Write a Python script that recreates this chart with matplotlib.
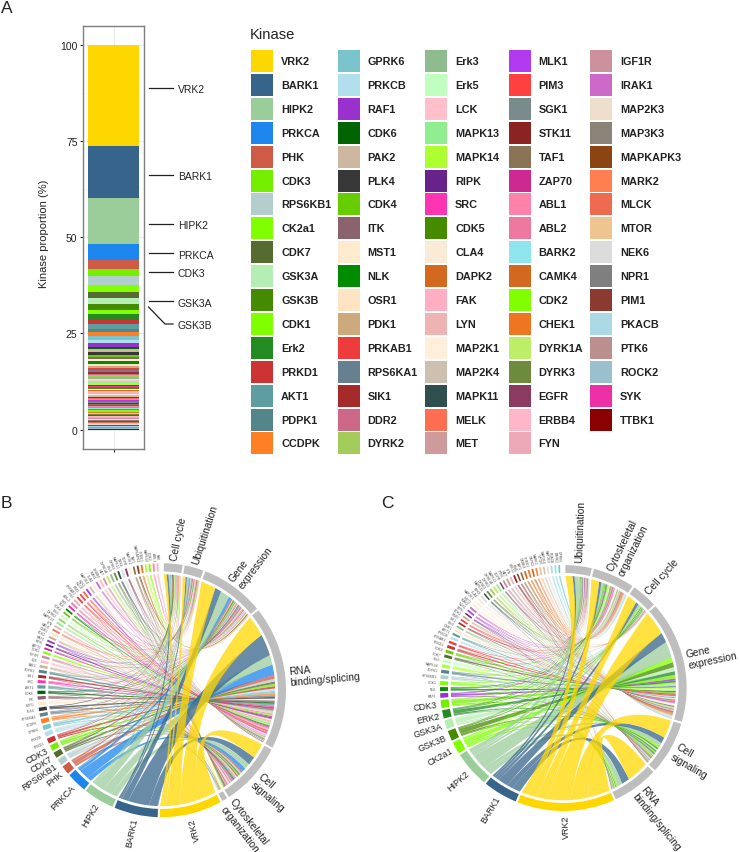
import numpy as np
import matplotlib
matplotlib.use('Agg')
import matplotlib.pyplot as plt
from matplotlib.patches import PathPatch, Rectangle, Wedge
from matplotlib.path import Path

plt.rcParams['font.family'] = ['Liberation Sans', 'DejaVu Sans']

W, H = 740, 853

# legend columns, also the stacking order of the bar
col1 = ['VRK2', 'BARK1', 'HIPK2', 'PRKCA', 'PHK', 'CDK3', 'RPS6KB1', 'CK2a1', 'CDK7', 'GSK3A', 'GSK3B', 'CDK1', 'Erk2', 'PRKD1', 'AKT1', 'PDPK1', 'CCDPK']
col2 = ['GPRK6', 'PRKCB', 'RAF1', 'CDK6', 'PAK2', 'PLK4', 'CDK4', 'ITK', 'MST1', 'NLK', 'OSR1', 'PDK1', 'PRKAB1', 'RPS6KA1', 'SIK1', 'DDR2', 'DYRK2']
col3 = ['Erk3', 'Erk5', 'LCK', 'MAPK13', 'MAPK14', 'RIPK', 'SRC', 'CDK5', 'CLA4', 'DAPK2', 'FAK', 'LYN', 'MAP2K1', 'MAP2K4', 'MAPK11', 'MELK', 'MET']
col4 = ['MLK1', 'PIM3', 'SGK1', 'STK11', 'TAF1', 'ZAP70', 'ABL1', 'ABL2', 'BARK2', 'CAMK4', 'CDK2', 'CHEK1', 'DYRK1A', 'DYRK3', 'EGFR', 'ERBB4', 'FYN']
col5 = ['IGF1R', 'IRAK1', 'MAP2K3', 'MAP3K3', 'MAPKAPK3', 'MARK2', 'MLCK', 'MTOR', 'NEK6', 'NPR1', 'PIM1', 'PKACB', 'PTK6', 'ROCK2', 'SYK', 'TTBK1']

colors1 = ['#FFD700', '#36648B', '#9BCD9B', '#1C86EE', '#CD5B45', '#76EE00', '#B4CDCD', '#7FFF00', '#556B2F', '#B4EEB4', '#458B00', '#7FFF00', '#228B22', '#CD3333', '#5F9EA0', '#53868B', '#FF7F24']
colors2 = ['#7AC5CD', '#B2DFEE', '#9932CC', '#006400', '#CDB79E', '#383838', '#66CD00', '#8B636C', '#FFEBCD', '#008B00', '#FFE4C4', '#CDAA7D', '#EE3B3B', '#668090', '#A52A2A', '#CD6889', '#A2CD5A']
colors3 = ['#8FBC8F', '#C1FFC1', '#FFC0CB', '#90EE90', '#ADFF2F', '#68228B', '#FF34B3', '#458B00', '#FAEBD7', '#D2691E', '#FFAEC4', '#EEB4B4', '#FFEFDB', '#CDC0B0', '#2F4F4F', '#FF6E50', '#CD9B9B']
colors4 = ['#B23AEE', '#FF4040', '#7A8B8B', '#8B2323', '#8B7355', '#CD2990', '#FF82AB', '#EE799F', '#8EE5EE', '#D2691E', '#7FFF00', '#EE7621', '#BCEE68', '#6E8B3D', '#8B3A62', '#FFB6C8', '#EEA9B8']
colors5 = ['#CD919E', '#CD69C9', '#EEDFCC', '#8B8378', '#8B4513', '#FF7F50', '#EE6A50', '#EEC591', '#DCDCDC', '#7F7F7F', '#8B3A30', '#ADD8E6', '#BC8F8F', '#9AC0CD', '#EE30A7', '#8B0000']

# bar shares (%), same order as the columns
share1 = [26.2, 13.6, 12.0, 4.2, 2.2, 2.0, 2.15, 1.9, 1.65, 1.4, 1.55, 1.2, 1.3, 1.3, 1.1, 0.95, 1.05]
share2 = [0.85, 0.95, 0.95, 0.6, 0.7, 0.7, 0.6, 0.6, 0.6, 0.6, 0.55, 0.5, 0.5, 0.5, 0.5, 0.45, 0.45]
share3 = [0.4, 0.4, 0.4, 0.4, 0.4, 0.35, 0.35, 0.35, 0.35, 0.35, 0.35, 0.35, 0.35, 0.3, 0.3, 0.3, 0.3]
share4 = [0.27, 0.27, 0.27, 0.27, 0.27, 0.27, 0.27, 0.27, 0.27, 0.27, 0.27, 0.27, 0.27, 0.27, 0.27, 0.27, 0.27]
share5 = [0.2, 0.2, 0.2, 0.2, 0.2, 0.2, 0.2, 0.2, 0.2, 0.2, 0.2, 0.2, 0.2, 0.2, 0.2, 0.2]

ytick_vals = [0, 25, 50, 75, 100]

# callouts beside the bar: name, y of the stub and of the text (pixels)
call_names = ['VRK2', 'BARK1', 'HIPK2', 'PRKCA', 'CDK3', 'GSK3A', 'GSK3B']
call_line_y = [88.5, 175.5, 225, 254, 272.5, 302, 325]
call_text_y = [90, 177, 226, 255.5, 274, 304, 325.5]

# panel B
cats_b = ['Cell cycle', 'Ubiquitination', 'Gene\nexpression', 'RNA\nbinding/splicing', 'Cell\nsignaling', 'Cytoskeletal\norganization']
rot_b = [78, 72, 53, 5, -40, -52]
kin_b = ['VRK2', 'BARK1', 'HIPK2', 'PRKCA', 'PHK', 'RPS6KB1', 'CDK7', 'CDK3', 'PRKD1', 'PRKCB', 'GPRK6', 'CCDPK',
         'RPS6KA1', 'PLK4', 'MST1', 'ITK', 'CDK6', 'AKT1', 'SRC', 'SIK1', 'PDPK1', 'PAK2', 'LCK', 'IGF1R',
         'CDK1', 'ZAP70', 'RIPK', 'RAF1', 'PDK1', 'OSR1', 'MELK', 'LYN', 'MAPK13', 'DYRK2', 'Erk5', 'CDK4',
         'NLK', 'SYK', 'ABL2', 'FYN', 'PRKAB1', 'PIM3', 'MLCK', 'MLK1', 'MAP2K4', 'CLA4', 'IRAK1', 'ERBB4',
         'MET', 'DYRK1A', 'Erk3', 'DYRK3', 'MAPK11', 'NEK6', 'EGFR', 'MAP2K1', 'TAF1', 'MAPKAPK3', 'CHEK1',
         'MAPK14', 'CDK2', 'ABL1', 'FAK']
# one row per kinase, one column per entry of cats_b
flows_b = [
    [1.5, 1.5, 8, 11, 8, .5], [1, .8, 3.5, 11.4, 4.4, .3], [.8, .9, 5, 5, 3, .3], [.3, .3, 1.5, 5.5, 2, .2],
    [0, .2, .8, 2, 1, .2], [.2, 0, .5, 1.4, .9, 0], [0, .2, .7, 1.2, .7, 0], [.3, 0, .6, 1.2, .7, 0],
    [0, .2, .4, 1.2, .7, 0], [0, 0, .4, 1.2, .6, 0], [0, .2, .3, 1.2, .5, 0], [.3, 0, .3, 1.1, .5, 0],
    [0, 0, .4, .9, .4, 0], [.4, 0, 0, .9, .4, 0], [0, .2, .4, .9, 0, .2], [0, 0, .4, 1, .2, 0],
    [.3, 0, .3, .8, .2, 0], [0, .2, 0, 1, .4, 0], [0, 0, .3, .8, .3, 0], [.2, 0, 0, .9, .3, 0],
    [0, .2, .3, .9, 0, 0], [0, 0, .3, .7, .3, 0], [.2, 0, 0, .8, .3, 0], [0, .2, 0, .7, .3, 0],
    [.3, 0, 0, .7, 0, 0], [0, 0, .3, .6, 0, 0], [0, .3, 0, .6, 0, 0], [0, 0, .3, .3, .3, 0],
    [.3, 0, 0, .3, .3, 0], [0, 0, 0, .6, .3, 0], [0, .3, .3, .3, 0, 0], [0, 0, 0, .6, .3, 0],
    [0, .3, 0, .6, 0, 0], [0, 0, .3, .6, 0, 0], [0, 0, .3, .3, .3, 0], [.3, 0, .3, .3, 0, 0],
    [0, .3, 0, .6, 0, 0], [0, 0, 0, .6, .3, 0], [0, 0, .3, .6, 0, 0], [.3, 0, 0, .6, 0, 0],
    [0, 0, .3, .3, .3, 0], [0, .3, 0, .6, 0, 0], [0, 0, 0, .6, .3, 0], [0, 0, .3, .6, 0, 0],
    [0, 0, 0, .3, .3, .3], [0, .3, .3, .3, 0, 0], [.3, 0, .3, .3, 0, 0], [0, 0, .3, .6, 0, 0],
    [0, .3, 0, .6, 0, 0], [.3, 0, .3, .3, 0, 0], [0, .3, .3, .3, 0, 0], [0, 0, .3, .3, .3, 0],
    [.3, 0, 0, .3, .3, 0], [0, 0, .3, .3, 0, .3], [0, .3, 0, .3, .3, 0], [0, 0, .3, .3, 0, .3],
    [0, .3, 0, .3, .3, 0], [0, 0, .5, .2, .2, 0], [.3, .3, .3, 0, 0, 0], [.3, 0, .3, 0, .3, 0],
    [.3, .3, 0, 0, .3, 0], [.3, .3, .3, 0, 0, 0], [.3, .3, 0, .3, 0, 0],
]

# panel C
cats_c = ['Ubiquitination', 'Cytoskeletal\norganization', 'Cell cycle', 'Gene\nexpression', 'Cell\nsignaling', 'RNA\nbinding/splicing']
rot_c = [88, 64, 48, 12, -30, -51]
kin_c = ['VRK2', 'BARK1', 'HIPK2', 'CK2a1', 'GSK3B', 'GSK3A', 'Erk2', 'CDK3', 'RAF1', 'NLK', 'CDK1', 'RPS6KB1',
         'PDPK1', 'MAPK14', 'Erk5', 'CDK7', 'CDK4', 'PRKD1', 'PRKAB1', 'PRKCB', 'AKT1', 'OSR1', 'Erk3', 'SIK1',
         'PIM3', 'PDK1', 'RIPK', 'MLK1', 'IRAK1', 'MST1', 'MAP2K1', 'CLA4', 'NEK6', 'MAPK11', 'DYRK3', 'DYRK2',
         'DYRK1A', 'MAPK13', 'EGFR', 'PTK6', 'MET', 'LYN', 'STK11', 'PIM1', 'TAF1', 'CAMK4', 'CHEK1', 'DAPK2',
         'MARK2', 'MTOR', 'MAP2K4', 'MAP2K3', 'PKACB', 'BARK2', 'GPRK6']
flows_c = [
    [3.5, 4, 5, 12, 9, 11], [1, 1.2, 1.5, 5, 3, 4], [2, .8, 1.2, 8, 2, 2.5], [.3, .4, .5, 2.5, 1, .8],
    [.2, .3, .5, 2.5, .8, .4], [.3, .2, .3, 2, .7, .5], [.3, .3, .4, 1.8, .7, .3], [.2, .3, .3, 1.8, .7, .4],
    [.2, .4, 0, 1, .5, 0], [0, .4, .2, .9, .3, 0], [.2, .4, 0, .8, .4, 0], [0, .4, 0, .9, .4, 0],
    [.2, 0, .2, .8, .3, 0], [0, .3, 0, .8, .4, 0], [0, .3, .2, .8, 0, 0], [.2, 0, 0, .8, .3, 0],
    [0, .4, 0, .7, .2, 0], [.2, 0, 0, .7, .3, .1], [0, .3, 0, .6, .2, 0], [.2, 0, .1, .5, .2, 0],
    [0, .3, 0, .5, .2, 0], [.2, 0, 0, .5, .2, .1], [0, .3, 0, .3, .2, 0], [.2, .3, 0, .3, 0, 0],
    [0, .3, .2, .3, 0, 0], [0, .3, 0, .3, .2, 0], [.2, 0, 0, .3, .2, 0], [0, .3, 0, .3, 0, .2],
    [.2, .3, 0, .3, 0, 0], [0, .3, 0, .3, .2, 0], [0, .3, .2, .3, 0, 0], [.2, .3, 0, .3, 0, 0],
    [0, .3, 0, .3, .2, 0], [.2, 0, 0, .3, .2, 0], [0, .3, .2, .3, 0, 0], [0, .3, 0, .3, .2, 0],
    [.2, .3, 0, .3, 0, 0], [0, .3, 0, .3, 0, .2], [.2, 0, .2, .3, 0, 0], [0, .3, 0, .3, .2, 0],
    [.2, .3, 0, .3, 0, 0], [0, .3, .2, .3, 0, 0], [0, .3, 0, .3, .2, 0], [.2, 0, 0, .3, 0, .2],
    [0, .3, 0, .3, .2, 0], [.2, .3, 0, .3, 0, 0], [0, .3, .2, .3, 0, 0], [0, .3, 0, .3, 0, .2],
    [.2, .3, 0, .3, 0, 0], [0, .3, 0, .3, .2, 0], [.2, 0, .2, .3, 0, 0], [0, .3, 0, .3, .2, 0],
    [.2, .3, 0, .3, 0, 0], [0, .3, 0, .3, 0, .2], [.2, .3, 0, .3, 0, 0],
]

names = col1 + col2 + col3 + col4 + col5
color_of = dict(zip(names, colors1 + colors2 + colors3 + colors4 + colors5))
shares = share1 + share2 + share3 + share4 + share5

fig = plt.figure(figsize=(W / 100, H / 100), dpi=100)


def px_axes(left, top, right, bottom):
    return fig.add_axes([left / W, 1 - bottom / H, (right - left) / W, (bottom - top) / H])


# pixel overlay for legend, callouts and panel letters
lay = fig.add_axes([0, 0, 1, 1])
lay.set_xlim(0, W)
lay.set_ylim(H, 0)
lay.axis('off')

for letter, x, y in [('A', 1, 8), ('B', 1, 503), ('C', 381, 504)]:
    lay.text(x, y, letter, fontsize=12.5, va='center', color='#222222')

# A: stacked bar
ax = px_axes(83, 27, 144, 449.5)
top = 100.0
for name, s in zip(names, shares):
    top -= s
    ax.bar(0, s, bottom=top, width=0.9, color=color_of[name], linewidth=0, zorder=3)
ax.set_xlim(-0.528, 0.528)
ax.set_ylim(-4.94, 104.94)
ax.set_yticks(ytick_vals)
ax.set_yticks([12.5, 37.5, 62.5, 87.5], minor=True)
ax.set_xticks([0])
ax.set_xticklabels([''])
ax.grid(True, which='major', color='#EBEBEB', linewidth=0.8)
ax.grid(True, which='minor', axis='y', color='#F2F2F2', linewidth=0.4)
ax.tick_params(which='minor', length=0)
ax.tick_params(which='major', length=2.5, width=0.8, color='#333333', labelsize=7.5, labelcolor='#222222', pad=1.5)
ax.set_ylabel('Kinase proportion (%)', fontsize=8, color='#222222')
ax.yaxis.set_label_coords(-0.56, 0.51)
for sp in ax.spines.values():
    sp.set_color('#7F7F7F')
    sp.set_linewidth(1.0)

for name, ly, ty in zip(call_names, call_line_y, call_text_y):
    if name == 'GSK3B':
        lay.plot([148.5, 165, 173], [308, ly, ly], color='#222222', lw=0.9)
    else:
        lay.plot([148.5, 173], [ly, ly], color='#222222', lw=0.9)
    lay.text(178, ty, name, fontsize=7.5, va='center', color='#222222')

# A: legend
lay.text(250, 34.5, 'Kinase', fontsize=10.6, va='center', color='#222222')
col_x = [251, 337.5, 425, 508.5, 590]
for cx, col in zip(col_x, [col1, col2, col3, col4, col5]):
    for row, name in enumerate(col):
        y0 = 51 + row * 23.9
        lay.add_patch(Rectangle((cx, y0), 22, 22, facecolor=color_of[name], edgecolor='none'))
        lay.text(cx + 30, y0 + 11, name, fontsize=7.8, fontweight='bold', va='center', color='#222222')


def xy(theta, r):
    t = np.radians(theta)
    return r * np.sin(t), r * np.cos(t)


def ribbon(a1, a2, b1, b2, rad, ctrl):
    # arc on the kinase side, curve towards ctrl, arc on the category side, curve back
    arc_a = np.linspace(a1, a2, 12)
    arc_b = np.linspace(b1, b2, 12)
    verts = [xy(t, rad) for t in arc_a]
    codes = [Path.MOVETO] + [Path.LINETO] * 11
    verts += [ctrl, xy(arc_b[0], rad)]
    codes += [Path.CURVE3, Path.CURVE3]
    verts += [xy(t, rad) for t in arc_b[1:]]
    codes += [Path.LINETO] * 11
    verts += [ctrl, xy(a1, rad), (0, 0)]
    codes += [Path.CURVE3, Path.CURVE3, Path.CLOSEPOLY]
    return Path(verts, codes)


def chord(cx, cy, rx, ry, cats, rots, kins, flows, ctrl, cat_size, n_big=8, gap=1.0, start=1.0, end=358.5):
    sub = px_axes(cx - 1.6 * rx, cy - 1.6 * ry, cx + 1.6 * rx, cy + 1.6 * ry)
    sub.set_xlim(-1.6, 1.6)
    sub.set_ylim(-1.6, 1.6)
    sub.axis('off')
    sub.patch.set_alpha(0)

    m = np.array(flows, dtype=float)
    n_sec = len(cats) + len(kins)
    unit = (end - start - gap * (n_sec - 1)) / (2 * m.sum())

    rim_in, rim_out, rad = 0.935, 1.0, 0.913
    pos = start
    cat_pos = []
    for j, c in enumerate(cats):
        w = m[:, j].sum() * unit
        cat_pos.append(pos)
        sub.add_patch(Wedge((0, 0), rim_out, 90 - pos - w, 90 - pos, width=rim_out - rim_in, facecolor='#BEBEBE', edgecolor='none'))
        x, y = xy(pos + w / 2, 1.03)
        sub.text(x, y, c, fontsize=cat_size, rotation=rots[j], rotation_mode='anchor', ha='left', va='center', multialignment='left', color='#222222', linespacing=1.2)
        pos += w + gap

    links = []
    cursor = list(cat_pos)
    for i, k in enumerate(kins):
        w = m[i].sum() * unit
        sub.add_patch(Wedge((0, 0), rim_out, 90 - pos - w, 90 - pos, width=rim_out - rim_in, facecolor=color_of[k], edgecolor='none'))
        mid = pos + w / 2
        x, y = xy(mid, 1.03)
        big = i < n_big
        sub.text(x, y, k.replace('Erk2', 'ERK2') if big else k, fontsize=6.5 if big else 2.4, rotation=270 - mid, rotation_mode='anchor', ha='right', va='center', color='#222222' if big else '#555555')
        # categories run backwards inside a kinase sector so ribbons do not twist
        a = pos
        for j in range(len(cats) - 1, -1, -1):
            f = m[i, j] * unit
            if f > 0:
                links.append((i, a, a + f, cursor[j], cursor[j] + f, color_of[k]))
                a += f
                cursor[j] += f
        pos += w + gap

    # big kinases go on top
    for i, a1, a2, b1, b2, col in sorted(links, key=lambda l: -l[0]):
        sub.add_patch(PathPatch(ribbon(a1, a2, b1, b2, rad, ctrl), facecolor=col, edgecolor='none', alpha=0.75, zorder=2))


chord(161.7, 691.2, 124.3, 127, cats_b, rot_b, kin_b, flows_b, (0.15, -0.07), 7.4)
chord(563.3, 689, 123.3, 123, cats_c, rot_c, kin_c, flows_c, (0.2, -0.03), 7.4)

fig.savefig('out.png', dpi=100)
